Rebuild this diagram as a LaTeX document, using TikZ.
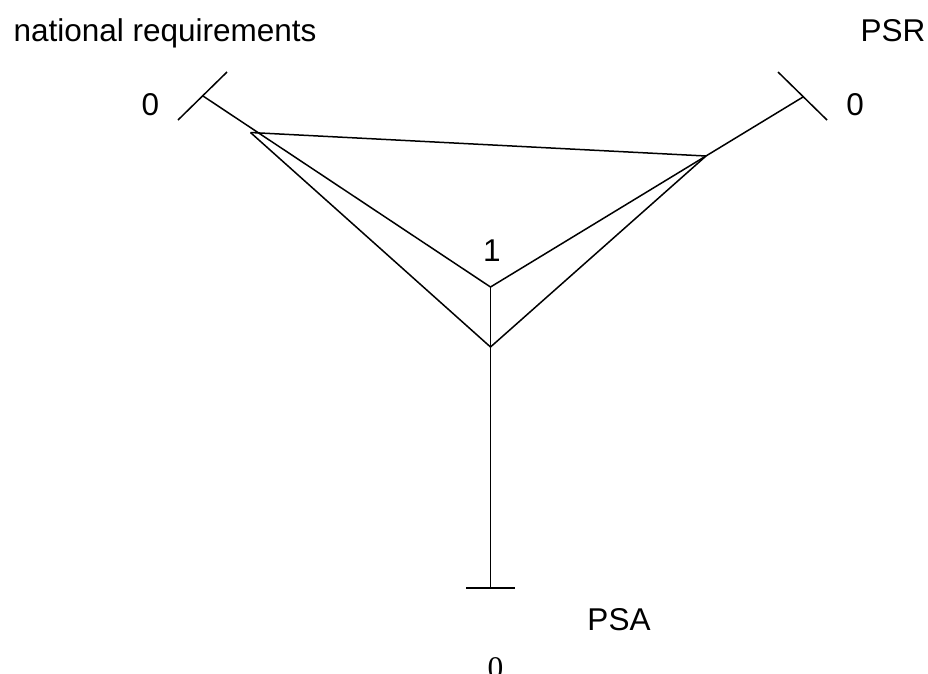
\documentclass[tikz,border=0pt]{standalone}
\usepackage{fontspec}
\setmainfont{Liberation Sans}
\newfontfamily\serifzero{Liberation Serif}
\begin{document}
\begin{tikzpicture}[x=1pt,y=-1pt,
  axisline/.style={line width=1.5pt,black},
  lbl/.style={inner sep=0pt,anchor=base,font=\fontsize{31.5}{38}\selectfont}]
\useasboundingbox (0,0) rectangle (928,673);
\clip (0,0) rectangle (928,673);
% axis end points and ticks
\coordinate (Lend) at (203,96);
\coordinate (Lt1) at (178,120);
\coordinate (Lt2) at (227,72);
\coordinate (Rend) at (803,97);
\coordinate (Rt1) at (778,72);
\coordinate (Rt2) at (827,120);
\coordinate (Bend) at (490.5,588);
\coordinate (Bt1) at (466,588);
\coordinate (Bt2) at (515,588);
\coordinate (C1) at (490.5,287);
\coordinate (C2) at (490.5,347);
\coordinate (LV) at (250.5,132.5);
\coordinate (RV) at (706,156);
% axes
\draw[axisline] (Lt1) -- (Lt2);
\draw[axisline] (Rt1) -- (Rt2);
\draw[axisline] (Bt1) -- (Bt2);
\draw[axisline] (Lend) -- (C1);
\draw[axisline] (Rend) -- (C1);
\draw[axisline] (C1) -- (Bend);
% triangle
\draw[axisline] (LV) -- (RV);
\draw[axisline] (LV) -- (C2);
\draw[axisline] (RV) -- (C2);
% labels
\node[lbl] (nat) at (165,41) {national requirements};
\node[lbl] (psr) at (893,41) {PSR};
\node[lbl] (psa) at (619,630) {PSA};
\node[lbl] (l0) at (150.5,115) {0};
\node[lbl] (r0) at (855,115) {0};
\node[lbl] (one) at (492,261.5) {1};
\node[lbl,font=\fontsize{31.5}{38}\serifzero] (b0) at (495.5,678) {0};
\end{tikzpicture}
\end{document}
